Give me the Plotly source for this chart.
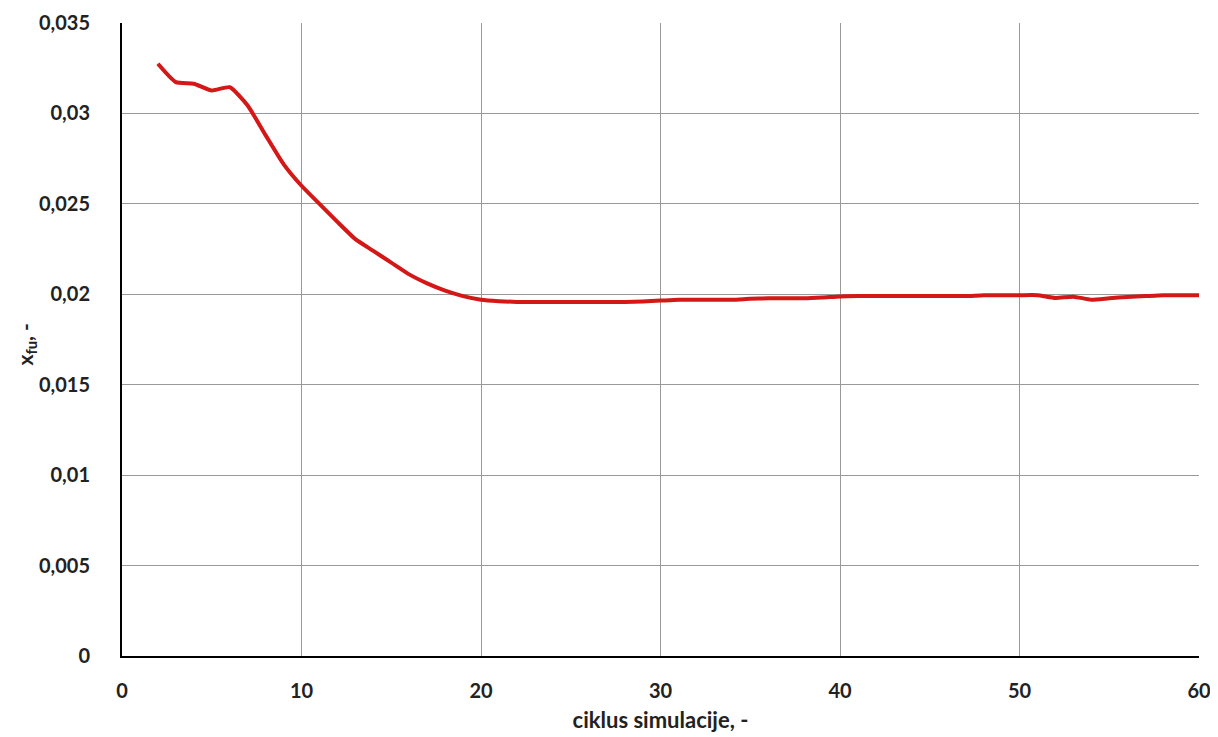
import plotly.graph_objects as go

cycles = list(range(2, 61))
x_fu = [
    0.03275, 0.03173, 0.03164, 0.03127, 0.03145, 0.03044, 0.02880, 0.02720, 0.02600,
    0.02500, 0.02400, 0.02305, 0.02240, 0.02175, 0.02110, 0.02060, 0.02020, 0.01990,
    0.01970, 0.01962, 0.01958, 0.01957, 0.01957, 0.01957, 0.01957, 0.01957, 0.01957,
    0.01960, 0.01965, 0.01970, 0.01970, 0.01970, 0.01970, 0.01975, 0.01978, 0.01978,
    0.01978, 0.01982, 0.01988, 0.01990, 0.01990, 0.01990, 0.01990, 0.01990, 0.01990,
    0.01990, 0.01995, 0.01995, 0.01995, 0.01995, 0.01980, 0.01987, 0.01970, 0.01978,
    0.01985, 0.01990, 0.01995, 0.01995, 0.01995,
]

x_ticks = [0, 10, 20, 30, 40, 50, 60]
y_ticks = [0, 0.005, 0.01, 0.015, 0.02, 0.025, 0.03, 0.035]

fig = go.Figure()
fig.add_trace(go.Scatter(
    x=cycles, y=x_fu, mode="lines",
    line=dict(color="#d41717", width=4, shape="spline", smoothing=0.5),
    showlegend=False,
))

font_family = "Lato, Open Sans, Liberation Sans, sans-serif"
fig.update_layout(
    width=1210, height=729,
    margin=dict(l=114, r=19, t=15, b=81, autoexpand=False),
    paper_bgcolor="white", plot_bgcolor="white",
    separators=",.",
    font=dict(family=font_family, size=20, color="#222222"),
    xaxis=dict(
        range=[0, 60], tickvals=x_ticks, ticktext=[f"<b>{t}</b>" for t in x_ticks],
        showgrid=True, gridcolor="#9a9a9a", gridwidth=1,
        showline=True, linecolor="black", linewidth=2,
        zeroline=False, ticks="", ticklen=0, automargin=False,
        ticklabelstandoff=16,
        title=dict(text="<b>ciklus simulacije, -</b>", font=dict(size=22), standoff=12),
    ),
    yaxis=dict(
        range=[0, 0.035], tickvals=y_ticks,
        ticktext=["<b>" + (f"{t:g}".replace(".", ",")) + "</b>" for t in y_ticks],
        showgrid=True, gridcolor="#9a9a9a", gridwidth=1,
        showline=True, linecolor="black", linewidth=2,
        zeroline=False, ticks="", ticklen=0, automargin=False,
        ticklabelstandoff=26,
    ),
    annotations=[dict(
        text="<b>x<sub>fu</sub>, -</b>", textangle=-90,
        xref="paper", yref="paper", x=0, y=0.5,
        xanchor="center", yanchor="middle", xshift=-97, yshift=-5,
        showarrow=False, font=dict(size=21, color="#222222"),
    )],
)

fig.write_html("out.html")
